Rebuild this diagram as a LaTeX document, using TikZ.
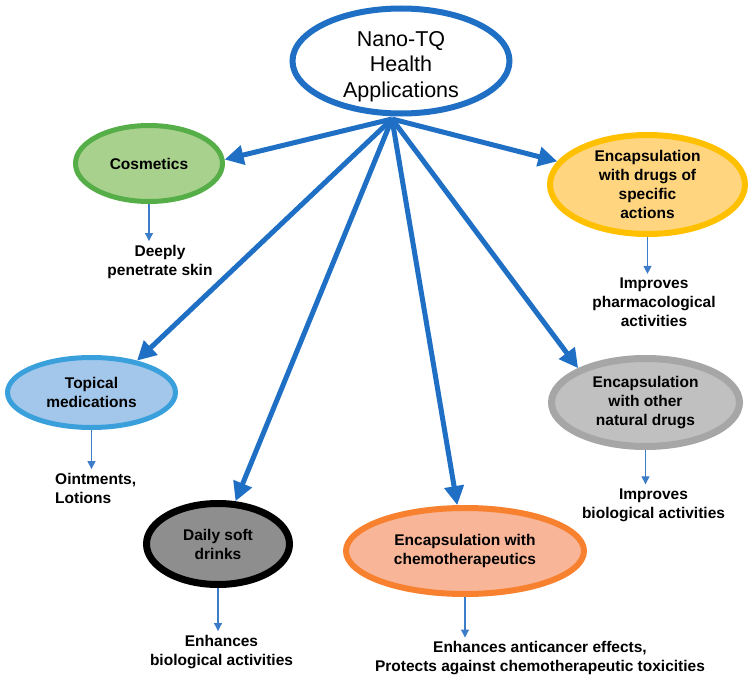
\documentclass[tikz,border=0pt]{standalone}
\usepackage{fontspec}
\setmainfont{Liberation Sans}
\usepackage{tikz}
\usetikzlibrary{arrows.meta,shapes.geometric,calc}
\definecolor{tqBlue}{HTML}{1F6FC4}
\definecolor{tqThin}{HTML}{3D7CC9}
\definecolor{tqGreen}{HTML}{55AE48}
\definecolor{tqLightGreen}{HTML}{A9D18E}
\definecolor{tqYellow}{HTML}{FFC000}
\definecolor{tqLightYellow}{HTML}{FFD580}
\definecolor{tqSky}{HTML}{3AA0DC}
\definecolor{tqLightSky}{HTML}{A2C7EA}
\definecolor{tqGray}{HTML}{A6A6A6}
\definecolor{tqLightGray}{HTML}{C0C0C0}
\definecolor{tqDark}{HTML}{8E8E8E}
\definecolor{tqOrange}{HTML}{F7812F}
\definecolor{tqLightOrange}{HTML}{F8B598}
\tikzset{
  % Centre ellipse
  titleell/.style={ellipse,inner sep=0pt,align=center,
    draw=tqBlue,line width=6pt,fill=white,
    text height=72.5pt,text depth=0pt,
    font=\fontsize{21.5}{25.5}\selectfont,text=black},
  % Application ellipse (shared look)
  appell/.style={ellipse,inner sep=0pt,align=center,
    font=\fontsize{15.5}{19}\selectfont\bfseries,text=black},
  greenell/.style={appell,draw=tqGreen,line width=5pt,fill=tqLightGreen},
  yellowell/.style={appell,draw=tqYellow,line width=6pt,fill=tqLightYellow},
  blueell/.style={appell,draw=tqSky,line width=5pt,fill=tqLightSky},
  grayell/.style={appell,draw=tqGray,line width=7pt,fill=tqLightGray},
  darkell/.style={appell,draw=black,line width=7pt,fill=tqDark},
  orangell/.style={appell,draw=tqOrange,line width=6pt,fill=tqLightOrange},
  % Effect text under each ellipse
  note/.style={inner sep=1pt,align=center,
    font=\fontsize{15.5}{19}\selectfont\bfseries,text=black},
  % Arrows
  bigarr/.style={-{Triangle[length=19pt,width=19pt]},line width=5pt,color=tqBlue},
  smallarr/.style={-{Triangle[length=8pt,width=8pt]},line width=1.1pt,
    color=tqThin,shorten >=3pt},
}
\begin{document}
\begin{tikzpicture}[x=1pt,y=-1pt]
  \useasboundingbox (0,0) rectangle (755,685);

  % Centre
  \node[titleell,minimum width=217pt,minimum height=105pt] (main) at (401,61)
    {Nano-TQ\\Health\\Applications};
  \coordinate (hub) at (392,119);

  % Applications
  \node[greenell,minimum width=147pt,minimum height=76pt] (cos) at (149,163.5)
    {Cosmetics};
  \node[yellowell,minimum width=195pt,minimum height=99pt] (spec) at (647.5,184.5)
    {Encapsulation\\with drugs of\\specific\\actions};
  \node[blueell,minimum width=168pt,minimum height=70pt] (top) at (91.5,392.5)
    {Topical\\medications};
  \node[grayell,minimum width=188pt,minimum height=88pt] (nat) at (645.5,402.5)
    {Encapsulation\\with other\\natural drugs};
  \node[darkell,minimum width=143pt,minimum height=81pt] (daily) at (218,544)
    {Daily soft\\drinks};
  \node[orangell,minimum width=238pt,minimum height=86pt] (chemo) at (465,551)
    {Encapsulation with\\chemotherapeutics};

  % Effects
  \node[note] (cosnote) at (160,262) {Deeply\\penetrate skin};
  \node[note] (specnote) at (654,302.5) {Improves\\pharmacological\\activities};
  \node[note,anchor=west,align=left] (topnote) at (54,488.5) {Ointments,\\Lotions};
  \node[note] (natnote) at (653.5,505) {Improves\\biological activities};
  \node[note] (dailynote) at (221.5,652) {Enhances\\biological activities};
  \node[note] (chemonote) at (540,658.5)
    {Enhances anticancer effects,\\Protects against chemotherapeutic toxicities};

  % Hub arrows
  \draw[bigarr] (hub) -- (cos.3);
  \draw[bigarr] (hub) -- (top.35);
  \draw[bigarr] (hub) -- (daily);
  \draw[bigarr] (hub) -- (chemo);
  \draw[bigarr] (hub) -- (nat.153);
  \draw[bigarr] (hub) -- (spec);

  % Effect arrows
  \draw[smallarr] (cos.south) -- (cos.south |- cosnote.north);
  \draw[smallarr] (spec.south) -- (spec.south |- specnote.north);
  \draw[smallarr] (top.south) -- (top.south |- topnote.north);
  \draw[smallarr] (nat.south) -- (nat.south |- natnote.north);
  \draw[smallarr] (daily.south) -- (daily.south |- dailynote.north);
  \draw[smallarr] (chemo.south) -- (chemo.south |- chemonote.north);
\end{tikzpicture}
\end{document}
